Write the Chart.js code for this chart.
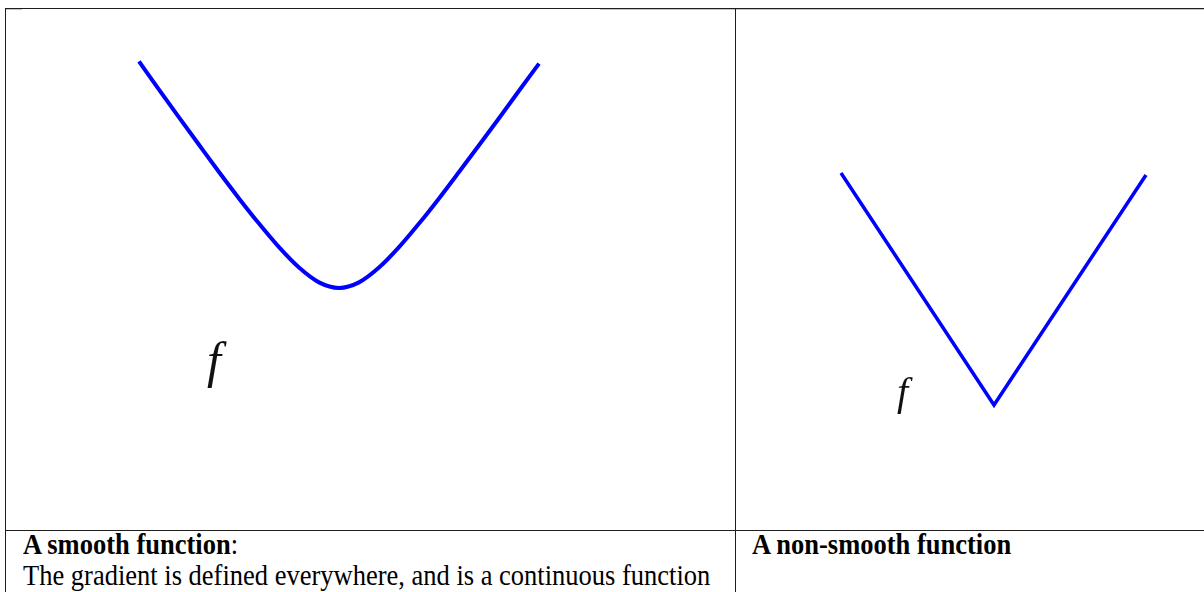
<!DOCTYPE html>
<html>
<head>
<meta charset="utf-8">
<script src="https://cdn.jsdelivr.net/npm/chart.js@4/dist/chart.umd.min.js"></script>
<style>
  html, body { margin:0; padding:0; background:#fff; width:1204px; height:592px; overflow:hidden; position:relative; }
  .ln { position:absolute; background:#1e1e1e; }
  .gl { position:absolute; background:#c4c4c4; }
  canvas { position:absolute; }
  .txt { position:absolute; font-family:"Liberation Serif","Times New Roman",serif; font-size:26.5px; line-height:31px; color:#000; white-space:nowrap; transform:scaleY(1.08); transform-origin:0 24.5px; }
  .f { position:absolute; font-family:"Liberation Serif","Times New Roman",serif; font-style:italic; line-height:1; color:#111; }
</style>
</head>
<body>
<div class="ln" style="left:5px;top:8px;width:1199px;height:1px;"></div>
<div class="gl" style="left:6px;top:9px;width:16px;height:1px;"></div>
<div class="gl" style="left:600px;top:9px;width:604px;height:1px;"></div>
<div class="ln" style="left:5px;top:8px;width:1px;height:584px;"></div>
<div class="ln" style="left:735px;top:9px;width:1px;height:583px;"></div>
<div class="ln" style="left:5px;top:530px;width:1199px;height:1px;"></div>

<canvas id="c1" width="600" height="400" style="left:39px;top:27px;width:600px;height:400px;"></canvas>
<canvas id="c2" width="400" height="300" style="left:794px;top:155px;width:400px;height:300px;"></canvas>

<div class="f" style="left:207px;top:335px;font-size:50px;">f</div>
<div class="f" style="left:897px;top:372px;font-size:40px;">f</div>

<div class="txt" style="left:23px;top:530px;"><b>A smooth function</b>:</div>
<div class="txt" style="left:23px;top:561px;">The gradient is defined everywhere, and is a continuous function</div>
<div class="txt" style="left:752px;top:530px;"><b>A non-smooth function</b></div>

<script>
// Smooth function (left panel)
const smoothX = [-10,-9,-8,-7,-6,-5,-4,-3,-2,-1,0,1,2,3,4,5,6,7,8,9,10];
const smoothY = [13.28,11.87,10.48,9.11,7.75,6.43,5.17,3.99,2.97,2.23,1.95,2.23,2.97,3.99,5.17,6.43,7.75,9.09,10.44,11.81,13.17];
// Non-smooth function (right panel)
const vX = [-1.53, 0, 1.52];
const vY = [2.32, 0, 2.30];

function pts(xs, ys){ return xs.map((x,i)=>({x:x, y:ys[i]})); }

function makeChart(id, data, xr, yr, width, mode){
  return new Chart(document.getElementById(id), {
    type: 'line',
    data: { datasets: [{
      data: data,
      borderColor: '#0000ff',
      borderWidth: width,
      pointRadius: 0,
      fill: false,
      cubicInterpolationMode: mode,
      borderCapStyle: 'butt',
      borderJoinStyle: 'miter'
    }]},
    options: {
      responsive: false,
      animation: false,
      events: [],
      layout: { padding: 0 },
      plugins: { legend: { display:false }, tooltip: { enabled:false } },
      scales: {
        x: { type:'linear', min:xr[0], max:xr[1], display:false },
        y: { type:'linear', min:yr[0], max:yr[1], display:false }
      }
    }
  });
}

makeChart('c1', pts(smoothX, smoothY), [-15, 15], [-5, 15], 4, 'monotone');
makeChart('c2', pts(vX, vY), [-2, 2], [-0.5, 2.5], 3.5, 'default');
</script>
</body>
</html>
